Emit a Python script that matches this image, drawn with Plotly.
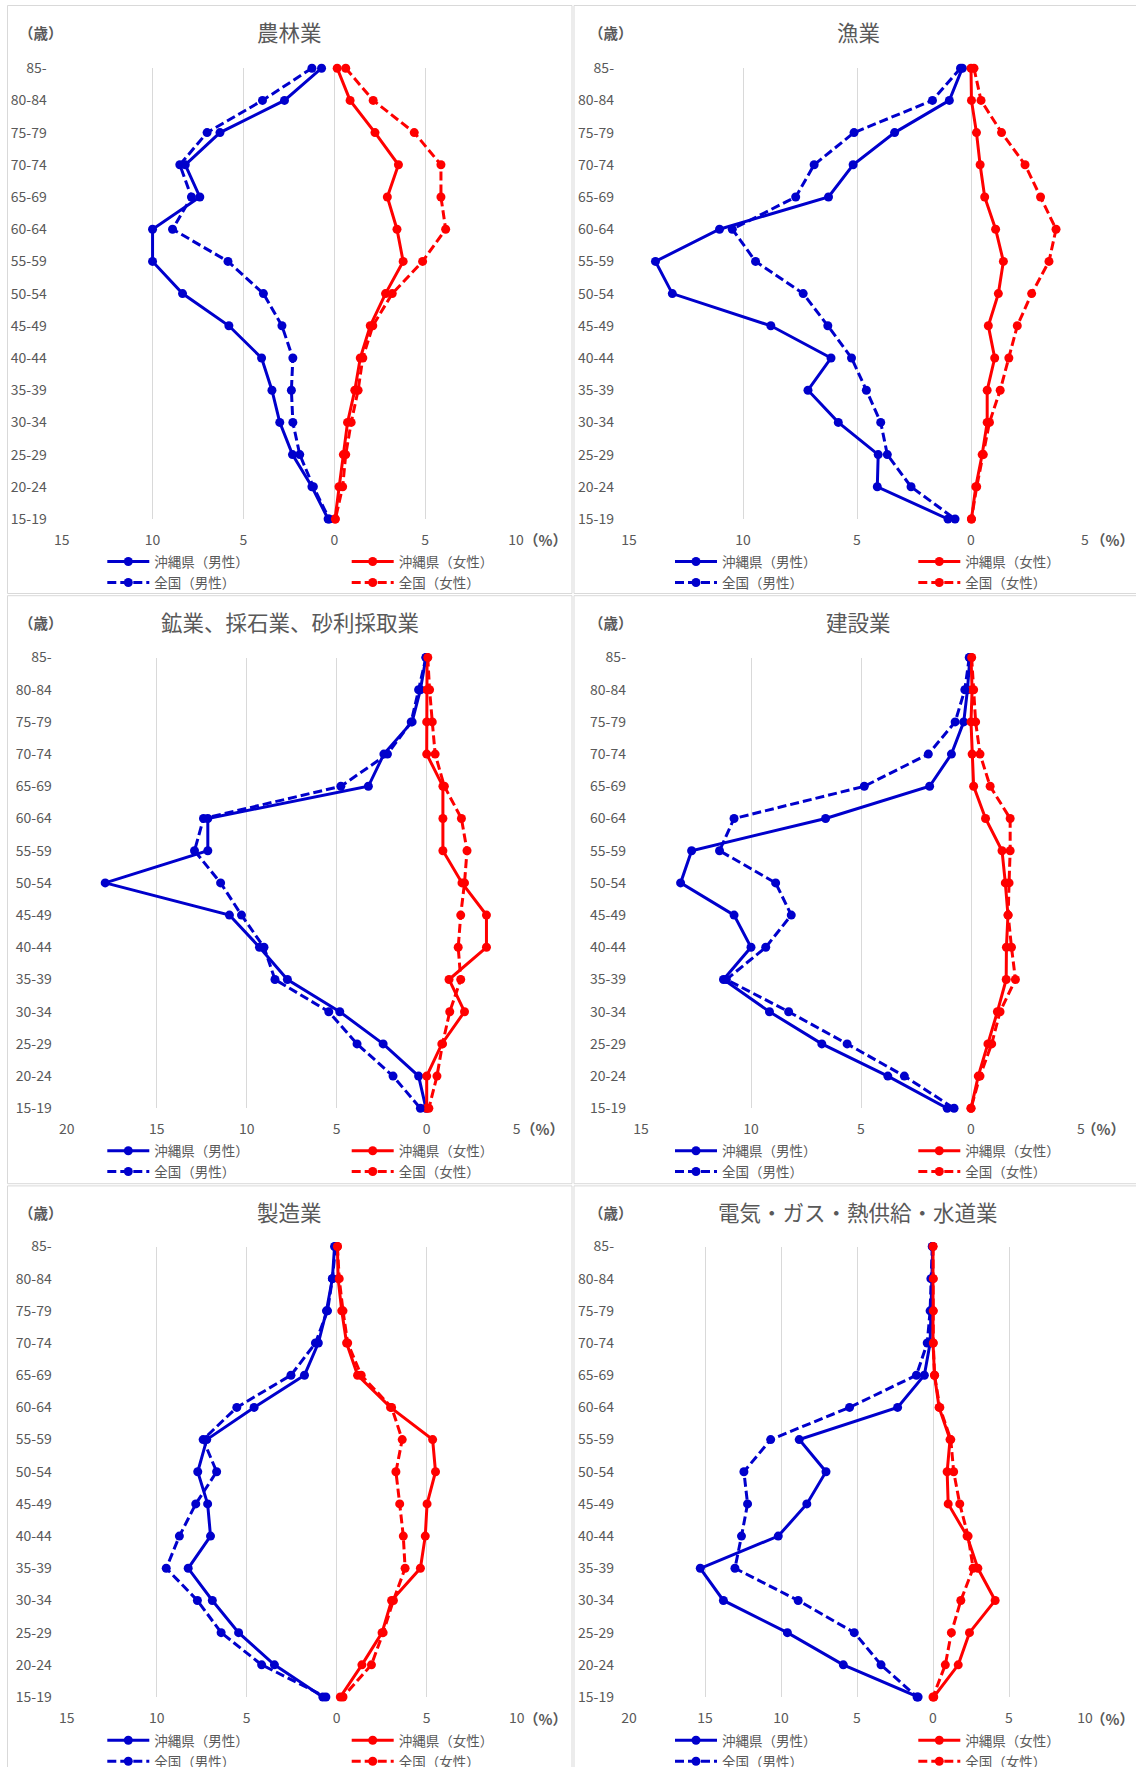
import plotly.graph_objects as go

# Age groups, listed from the oldest (top row) to the youngest (bottom row)
AGES = ["85-", "80-84", "75-79", "70-74", "65-69", "60-64", "55-59",
        "50-54", "45-49", "40-44", "35-39", "30-34", "25-29", "20-24", "15-19"]

# Share of workers by age group (%), Okinawa vs. nationwide, male / female
agri_oki_m = [0.7, 2.74, 6.29, 8.2, 7.4, 10.0, 10.0, 8.35, 5.8, 4.0, 3.43, 3.0, 2.3, 1.23, 0.34]
agri_nat_m = [1.23, 3.95, 7.0, 8.5, 7.86, 8.9, 5.85, 3.9, 2.88, 2.28, 2.36, 2.28, 1.9, 1.15, 0.28]
agri_oki_f = [0.16, 0.87, 2.24, 3.53, 2.92, 3.45, 3.79, 2.82, 1.98, 1.43, 1.13, 0.73, 0.5, 0.26, 0.04]
agri_nat_f = [0.63, 2.14, 4.4, 5.87, 5.87, 6.13, 4.86, 3.19, 2.12, 1.57, 1.31, 0.93, 0.63, 0.46, 0.06]

fish_oki_m = [0.38, 0.95, 3.35, 5.17, 6.25, 11.03, 13.84, 13.1, 8.78, 6.14, 7.15, 5.82, 4.07, 4.11, 1.01]
fish_nat_m = [0.46, 1.69, 5.13, 6.88, 7.69, 10.47, 9.45, 7.36, 6.28, 5.24, 4.59, 3.96, 3.67, 2.63, 0.7]
fish_oki_f = [0.0, 0.02, 0.24, 0.4, 0.6, 1.08, 1.42, 1.2, 0.76, 1.04, 0.71, 0.71, 0.49, 0.21, 0.02]
fish_nat_f = [0.13, 0.44, 1.34, 2.37, 3.05, 3.73, 3.42, 2.66, 2.03, 1.66, 1.28, 0.81, 0.54, 0.25, 0.02]

mine_oki_m = [0.04, 0.35, 0.81, 2.38, 3.24, 12.16, 12.16, 17.86, 10.96, 9.29, 7.74, 4.83, 2.42, 0.45, 0.04]
mine_nat_m = [0.04, 0.45, 0.86, 2.18, 4.77, 12.4, 12.9, 11.45, 10.29, 9.04, 8.43, 5.44, 3.87, 1.87, 0.35]
mine_oki_f = [0.02, 0.02, 0.0, 0.0, 0.9, 0.9, 0.9, 1.96, 3.32, 3.32, 1.24, 2.1, 0.84, 0.0, 0.0]
mine_nat_f = [0.06, 0.16, 0.31, 0.47, 0.98, 1.93, 2.24, 2.1, 1.89, 1.75, 1.89, 1.28, 0.88, 0.57, 0.12]

cons_oki_m = [0.05, 0.16, 0.33, 0.89, 1.88, 6.61, 12.7, 13.2, 10.77, 10.0, 11.25, 9.16, 6.78, 3.78, 1.08]
cons_nat_m = [0.08, 0.28, 0.72, 1.94, 4.85, 10.77, 11.43, 8.88, 8.17, 9.33, 11.12, 8.29, 5.63, 3.03, 0.77]
cons_oki_f = [0.0, 0.05, 0.0, 0.05, 0.12, 0.66, 1.41, 1.56, 1.68, 1.61, 1.6, 1.2, 0.77, 0.33, 0.0]
cons_nat_f = [0.03, 0.12, 0.21, 0.41, 0.87, 1.78, 1.78, 1.73, 1.69, 1.84, 2.02, 1.32, 0.94, 0.41, 0.0]

manu_oki_m = [0.12, 0.24, 0.57, 1.02, 1.79, 4.59, 7.22, 7.72, 7.17, 7.01, 8.25, 6.91, 5.45, 3.46, 0.77]
manu_nat_m = [0.06, 0.24, 0.51, 1.18, 2.54, 5.55, 7.42, 6.67, 7.83, 8.74, 9.47, 7.74, 6.42, 4.17, 0.6]
manu_oki_f = [0.04, 0.08, 0.28, 0.55, 1.16, 2.99, 5.33, 5.49, 5.02, 4.92, 4.65, 3.05, 2.52, 1.4, 0.2]
manu_nat_f = [0.04, 0.14, 0.35, 0.61, 1.36, 3.05, 3.64, 3.29, 3.5, 3.7, 3.8, 3.15, 2.58, 1.93, 0.35]

util_oki_m = [0.02, 0.07, 0.1, 0.19, 0.57, 2.33, 8.8, 7.04, 8.3, 10.18, 15.31, 13.79, 9.58, 5.9, 0.98]
util_nat_m = [0.05, 0.14, 0.19, 0.38, 1.09, 5.49, 10.68, 12.44, 12.2, 12.6, 13.03, 8.87, 5.18, 3.42, 1.05]
util_oki_f = [0.0, 0.0, 0.0, 0.0, 0.1, 0.4, 1.12, 0.93, 1.0, 2.24, 2.95, 4.09, 2.4, 1.66, 0.05]
util_nat_f = [0.0, 0.02, 0.02, 0.02, 0.1, 0.45, 1.17, 1.36, 1.76, 2.31, 2.64, 1.83, 1.21, 0.81, 0.0]

TITLES = ["農林業", "漁業", "鉱業、採石業、砂利採取業", "建設業", "製造業", "電気・ガス・熱供給・水道業"]
MALE_AXIS_MAX = [15, 15, 20, 15, 15, 20]
FEMALE_AXIS_MAX = [10, 5, 5, 5, 10, 10]
SERIES_NAMES = ["沖縄県（男性）", "沖縄県（女性）", "全国（男性）", "全国（女性）"]

PANEL_DATA = [
    (agri_oki_m, agri_oki_f, agri_nat_m, agri_nat_f),
    (fish_oki_m, fish_oki_f, fish_nat_m, fish_nat_f),
    (mine_oki_m, mine_oki_f, mine_nat_m, mine_nat_f),
    (cons_oki_m, cons_oki_f, cons_nat_m, cons_nat_f),
    (manu_oki_m, manu_oki_f, manu_nat_m, manu_nat_f),
    (util_oki_m, util_oki_f, util_nat_m, util_nat_f),
]

# ---- page geometry (pixels) ----
W, H = 1136, 1767
BLUE = "#0000CC"
RED = "#FF0000"
GREY = "#595959"
GRID = "#D9D9D9"
FONT = "Noto Sans CJK JP"

FRAME_X = [(7.5, 572.0), (574.0, 1139.0)]
FRAME_Y = [(5.5, 593.5), (595.7, 1183.7), (1185.9, 1773.9)]
PLOT_X = [(61.7, 516.0), (629.0, 1085.0), (66.7, 516.7), (641.0, 1081.0), (66.7, 516.7), (629.0, 1085.0)]
PLOT_Y = [(68.2, 519.0), (657.5, 1108.3), (1246.5, 1697.0)]
TITLE_Y = [31.4, 621.4, 1211.0]
TITLE_X = [289.7, 858.0]
UNIT_AGE_X = [41.3, 610.6]
UNIT_PCT = [(545.5, 539.0), (1112.0, 539.0), (542.0, 1128.0), (1103.0, 1128.0), (545.5, 1718.0), (1112.0, 1718.0)]
LEGEND_LINE_X = [(107.3, 351.7), (675.0, 918.3)]
LEGEND_ROW_Y = [(561.7, 582.7), (1151.0, 1171.7), (1740.5, 1761.5)]


def fx(px):
    return px / W


def fy(px):
    return 1 - px / H


fig = go.Figure()
layout = {}
shapes = []
annotations = []

for i, (oki_m, oki_f, nat_m, nat_f) in enumerate(PANEL_DATA):
    row, col = divmod(i, 2)
    suffix = "" if i == 0 else str(i + 1)
    xa, ya = "x" + suffix, "y" + suffix

    series = [
        ([-v for v in oki_m], BLUE, "solid"),
        (oki_f, RED, "solid"),
        ([-v for v in nat_m], BLUE, "9px,4px"),
        (nat_f, RED, "9px,4px"),
    ]
    for k, (vals, color, dash) in enumerate(series):
        leg_n = i * 4 + k + 1
        leg_id = "legend" if leg_n == 1 else f"legend{leg_n}"
        fig.add_trace(go.Scatter(
            x=vals, y=AGES, mode="lines+markers", name=SERIES_NAMES[k],
            line=dict(color=color, width=3, dash=dash),
            marker=dict(color=color, size=9, symbol="circle"),
            xaxis=xa, yaxis=ya, legend=leg_id, cliponaxis=False,
            hoverinfo="skip",
        ))
        lx = LEGEND_LINE_X[col][k % 2] - 5
        ly = LEGEND_ROW_Y[row][k // 2]
        layout[leg_id] = dict(
            x=fx(lx), y=fy(ly), xanchor="left", yanchor="middle",
            orientation="h", bgcolor="rgba(0,0,0,0)", borderwidth=0,
            itemwidth=42, itemclick=False, itemdoubleclick=False,
            font=dict(family=FONT, size=13.5, color=GREY),
        )

    mmax, fmax = MALE_AXIS_MAX[i], FEMALE_AXIS_MAX[i]
    tickvals = list(range(-mmax, fmax + 1, 5))
    x0, x1 = PLOT_X[i]
    y0, y1 = PLOT_Y[row]
    layout["xaxis" + suffix] = dict(
        domain=[fx(x0), fx(x1)], anchor=ya, range=[-mmax, fmax],
        tickmode="array", tickvals=tickvals, ticktext=[str(abs(v)) for v in tickvals],
        showgrid=True, gridcolor=GRID, gridwidth=1, zeroline=False, showline=False,
        ticks="", ticklabelstandoff=11, fixedrange=True,
        tickfont=dict(family=FONT, size=14, color=GREY),
    )
    layout["yaxis" + suffix] = dict(
        domain=[fy(y1), fy(y0)], anchor=xa, type="category",
        categoryorder="array", categoryarray=AGES[::-1], range=[0, 14],
        showgrid=False, zeroline=False, showline=False, ticks="",
        ticklabelstandoff=14, fixedrange=True,
        tickfont=dict(family=FONT, size=14, color=GREY),
    )

    # chart frame
    fx0, fx1 = FRAME_X[col]
    fy0, fy1 = FRAME_Y[row]
    shapes.append(dict(type="rect", xref="paper", yref="paper",
                       x0=fx(fx0), x1=fx(fx1), y0=fy(fy1), y1=fy(fy0),
                       line=dict(color=GRID, width=1), fillcolor="rgba(0,0,0,0)", layer="below"))

    annotations.append(dict(text=TITLES[i], x=fx(TITLE_X[col]), y=fy(TITLE_Y[row]),
                            xref="paper", yref="paper", xanchor="center", yanchor="middle",
                            showarrow=False, font=dict(family=FONT, size=21.5, color=GREY)))
    annotations.append(dict(text="<b>（歳）</b>", x=fx(UNIT_AGE_X[col]), y=fy(TITLE_Y[row] + 1),
                            xref="paper", yref="paper", xanchor="center", yanchor="middle",
                            showarrow=False, font=dict(family=FONT, size=14.5, color=GREY)))
    px, py = UNIT_PCT[i]
    annotations.append(dict(text="<b>（%）</b>", x=fx(px), y=fy(py),
                            xref="paper", yref="paper", xanchor="center", yanchor="middle",
                            showarrow=False, font=dict(family=FONT, size=14.5, color=GREY)))

fig.update_layout(
    width=W, height=H, margin=dict(l=0, r=0, t=0, b=0, pad=0, autoexpand=False),
    paper_bgcolor="white", plot_bgcolor="white",
    shapes=shapes, annotations=annotations, showlegend=True,
    **layout,
)

fig.write_html("out.html")
